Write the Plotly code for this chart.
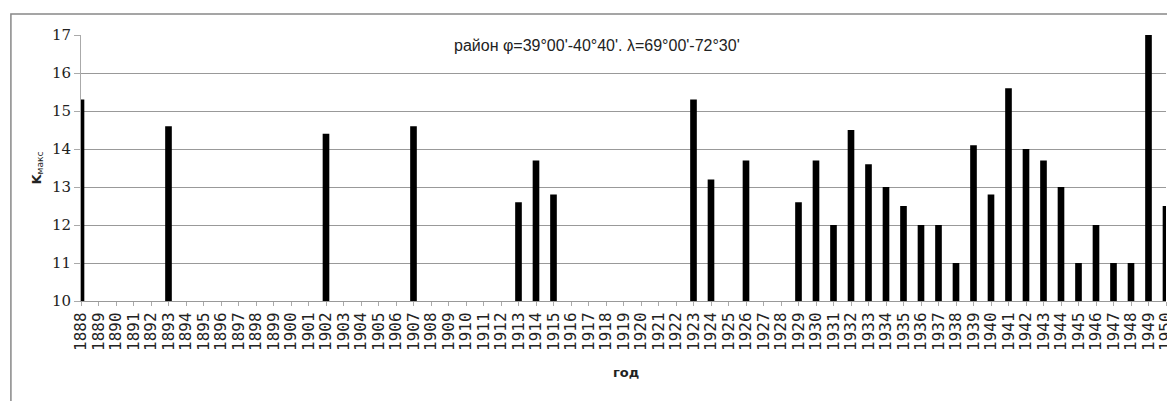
import plotly.graph_objects as go

years = list(range(1888, 1951))
k_max = {
    1888: 15.3, 1893: 14.6, 1902: 14.4, 1907: 14.6, 1913: 12.6, 1914: 13.7,
    1915: 12.8, 1923: 15.3, 1924: 13.2, 1926: 13.7, 1929: 12.6, 1930: 13.7,
    1931: 12.0, 1932: 14.5, 1933: 13.6, 1934: 13.0, 1935: 12.5, 1936: 12.0,
    1937: 12.0, 1938: 11.0, 1939: 14.1, 1940: 12.8, 1941: 15.6, 1942: 14.0,
    1943: 13.7, 1944: 13.0, 1945: 11.0, 1946: 12.0, 1947: 11.0, 1948: 11.0,
    1949: 17.0, 1950: 12.5,
}
values = [k_max.get(y) for y in years]
y_ticks = [10, 11, 12, 13, 14, 15, 16, 17]
title_text = "район φ=39°00'-40°40'. λ=69°00'-72°30'"

fig = go.Figure()
fig.add_trace(go.Bar(
    x=years, y=values,
    marker=dict(color="black", line=dict(width=0)),
    showlegend=False, cliponaxis=True,
))

fig.update_layout(
    width=1167, height=393,
    margin=dict(l=73, r=9, t=27, b=100),
    paper_bgcolor="white", plot_bgcolor="white",
    bargap=0.62,
    font=dict(family="DejaVu Sans", color="black"),
)
fig.update_xaxes(
    range=[1888, 1950.0001], tickmode="array", tickvals=years,
    ticktext=[str(y) for y in years], tickangle=-90, automargin=False,
    ticklabeloverflow="allow",
    tickfont=dict(family="DejaVu Sans Mono", size=16, color="#222"),
    showgrid=False, showline=True, linecolor="#999", linewidth=1,
    ticks="outside", ticklen=4, tickcolor="#aaa",
)
fig.update_yaxes(
    range=[10, 17], tickvals=y_ticks, automargin=False,
    tickfont=dict(family="DejaVu Serif", size=15, color="#222"),
    showgrid=True, gridcolor="#999", gridwidth=1,
    showline=True, linecolor="#aaa", linewidth=1,
    ticks="outside", ticklen=6, tickcolor="#aaa",
    zeroline=False,
)

fig.add_annotation(
    x=0.476, y=0.96, xref="paper", yref="paper", text=title_text,
    showarrow=False, font=dict(family="Liberation Sans", size=16, color="#222"),
    xanchor="center", yanchor="middle",
)
fig.add_annotation(
    x=-0.041, y=0.5, xref="paper", yref="paper", text="<b>K</b><sub>макс</sub>",
    showarrow=False, textangle=-90, font=dict(family="DejaVu Sans", size=13, color="#222"),
    xanchor="center", yanchor="middle",
)
fig.add_annotation(
    x=0.502, y=-0.27, xref="paper", yref="paper", text="<b>год</b>",
    showarrow=False, font=dict(family="DejaVu Sans", size=13, color="#222"),
    xanchor="center", yanchor="middle",
)
fig.add_shape(
    type="rect", xref="paper", yref="paper",
    x0=-0.0646, x1=1.2, y0=-0.5, y1=1.079,
    line=dict(color="#888", width=1.5), fillcolor="rgba(0,0,0,0)", layer="below",
)

fig.write_html("out.html")
